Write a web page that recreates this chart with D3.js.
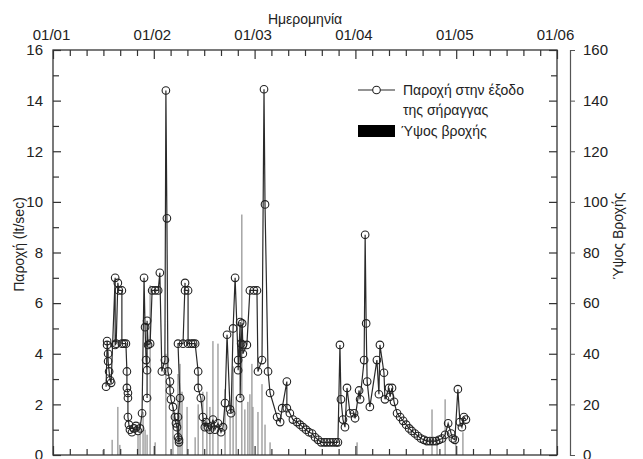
<!DOCTYPE html>
<html>
<head>
<meta charset="utf-8">
<script src="https://cdn.jsdelivr.net/npm/d3@7"></script>
<style>
  body { margin: 0; background: #fff; }
  text { font-family: "Liberation Sans", Arial, sans-serif; fill: #222; }
</style>
</head>
<body>
<div id="chart"></div>
<script>
// date tick labels (day/month), one every 30 days
const dateLabels = ["01/01", "01/02", "01/03", "01/04", "01/05", "01/06"];

// discharge at the tunnel exit: day since 01/01 and lt/sec
const flowDays = [15.8, 16.1, 16.1, 16.4, 16.4, 16.7, 17.0, 17.3, 18.5, 18.5, 18.8, 19.3, 19.6, 20.5, 20.5, 21.1, 21.7,
  22.0, 22.0, 22.3, 22.3, 22.3, 22.6, 22.9, 23.5, 24.1, 24.7, 25.3, 25.9, 26.5, 27.1, 27.4, 27.7, 28.0, 28.0, 28.0,
  28.3, 28.9, 29.5, 30.4, 31.3, 31.8, 32.4, 33.3, 33.6, 33.9, 34.2, 34.8, 34.8, 35.1, 35.7, 36.3, 36.6, 36.9, 37.2,
  37.5, 37.5, 37.2, 37.8, 37.2, 38.7, 39.3, 39.3, 40.2, 40.2, 41.1, 41.7, 42.3, 43.2, 43.2, 44.0, 44.6, 45.2, 45.5,
  46.1, 46.7, 47.6, 48.2, 49.1, 50.0, 50.6, 51.2, 51.8, 52.7, 53.0, 53.6, 54.2, 55.1, 55.1, 55.7, 55.7, 56.0, 56.3,
  56.5, 56.5, 57.7, 58.6, 59.8, 60.7, 61.0, 62.2, 62.8, 63.1, 64.0, 64.6, 66.7, 67.6, 68.2, 69.6, 69.6, 70.5, 71.4,
  72.6, 73.5, 74.4, 75.3, 76.2, 77.1, 78.0, 78.9, 79.8, 80.7, 81.5, 82.4, 83.3, 84.2, 84.8, 85.4, 85.7, 86.3, 86.9,
  87.5, 88.4, 89.6, 89.9, 91.1, 91.4, 92.6, 92.9, 93.2, 93.5, 94.3, 96.4, 97.0, 97.3, 98.5, 98.8, 100.0, 100.3, 100.9,
  101.5, 102.4, 103.3, 104.2, 105.1, 106.0, 106.8, 107.7, 108.6, 109.5, 110.4, 111.3, 112.2, 113.1, 114.0, 114.9,
  115.8, 116.7, 117.6, 118.5, 119.0, 119.6, 120.5, 121.1, 121.7, 122.3, 122.9];
const flowValues = [2.7, 4.35, 4.5, 4.0, 3.7, 3.3, 2.95, 2.85, 7.0, 4.35, 4.4, 6.8, 6.5, 6.5, 4.4, 4.4, 4.4,
  3.3, 2.65, 2.45, 2.25, 1.5, 1.2, 1.0, 0.9, 1.05, 1.15, 0.95, 1.05, 1.65, 7.0, 5.05, 3.75, 3.35, 2.25, 5.3,
  4.35, 4.4, 6.5, 6.5, 6.5, 7.2, 3.3, 3.75, 14.4, 9.35, 3.3, 2.9, 2.55, 2.2, 1.9, 1.5, 1.25, 1.1, 0.7,
  0.5, 0.6, 1.5, 2.25, 4.4, 4.4, 6.8, 6.5, 6.5, 4.4, 4.4, 4.4, 4.4, 3.3, 2.65, 2.25, 1.5, 1.1, 1.3,
  1.1, 1.0, 1.4, 1.0, 1.25, 0.9, 1.1, 2.05, 4.75, 1.8, 1.65, 5.0, 7.0, 3.75, 3.35, 5.25, 2.25, 4.4, 5.2,
  4.35, 4.0, 4.35, 6.5, 6.5, 6.5, 3.3, 3.75, 14.45, 9.9, 3.3, 2.45, 1.5, 1.3, 1.85, 2.9, 1.85, 1.65, 1.4,
  1.3, 1.2, 1.1, 1.0, 0.9, 0.85, 0.7, 0.6, 0.5, 0.5, 0.5, 0.5, 0.5, 0.5, 0.5, 4.35, 2.2, 1.4, 1.1,
  2.65, 1.65, 1.65, 1.45, 2.55, 2.2, 3.75, 8.7, 5.2, 2.9, 1.9, 3.75, 2.4, 4.35, 3.25, 2.2, 2.65, 2.3, 2.65,
  2.1, 1.65, 1.5, 1.35, 1.2, 1.05, 0.95, 0.85, 0.75, 0.65, 0.6, 0.55, 0.55, 0.55, 0.55, 0.6,
  0.65, 0.8, 1.25, 0.85, 0.65, 0.6, 2.6, 1.3, 1.1, 1.5, 1.4];

// rainfall height (mm)
const rainDays = [14.9, 17.6, 19.3, 19.9, 25.3, 25.9, 26.8, 27.4, 28.0, 28.9, 30.4, 33.6, 35.7, 37.2, 37.8, 38.4,
  39.9, 42.3, 43.2, 44.6, 45.8, 46.7, 47.6, 49.1, 51.2, 52.7, 53.6, 54.5, 56.2, 57.1, 58.0, 58.6, 59.2, 59.5,
  61.0, 62.2, 63.1, 64.6, 90.5, 112.8, 114.3, 116.7, 119.9, 122.0];
const rainValues = [2, 6, 19, 4, 8, 13, 17, 10, 8, 67, 5, 40, 19, 32, 36, 25,
  19, 7, 20, 25, 25, 19, 45, 44, 26, 15, 35, 23, 95, 18, 21, 24, 36, 19,
  17, 28, 12, 5, 5, 18, 7, 22, 7, 9];

const W = 643, H = 459;
const svg = d3.select('#chart').append('svg')
  .attr('width', W)
  .attr('height', H);

const plotLeft = 53, plotRight = 557, plotTop = 50, plotBottom = 455;

const x = d3.scaleLinear().domain([0, 150]).range([plotLeft, plotRight]);
const y = d3.scaleLinear().domain([0, 16]).range([plotBottom, plotTop]);
const yRain = d3.scaleLinear().domain([0, 160]).range([plotBottom, plotTop]);

const majorDays = d3.range(0, 151, 30);
const minorDays = d3.range(0, 151, 5).filter(d => d % 30 !== 0);

// rain bars
svg.append('g')
  .selectAll('rect')
  .data(rainDays)
  .enter()
  .append('rect')
  .attr('x', d => x(d) - 0.6)
  .attr('width', 1.2)
  .attr('y', (d, i) => yRain(rainValues[i]))
  .attr('height', (d, i) => yRain(0) - yRain(rainValues[i]))
  .attr('fill', '#8f8f8f');

// discharge line + hollow circles
const flow = flowDays.map((d, i) => [d, flowValues[i]]);
svg.append('path')
  .datum(flow)
  .attr('fill', 'none')
  .attr('stroke', '#2a2a2a')
  .attr('stroke-width', 1.2)
  .attr('d', d3.line().x(d => x(d[0])).y(d => y(d[1])));
svg.append('g')
  .selectAll('circle')
  .data(flow)
  .enter()
  .append('circle')
  .attr('cx', d => x(d[0]))
  .attr('cy', d => y(d[1]))
  .attr('r', 3.8)
  .attr('fill', 'none')
  .attr('stroke', '#222')
  .attr('stroke-width', 1.1);

// frame
svg.append('rect')
  .attr('x', plotLeft).attr('y', plotTop)
  .attr('width', plotRight - plotLeft).attr('height', plotBottom - plotTop)
  .attr('fill', 'none')
  .attr('stroke', '#333')
  .attr('stroke-width', 1.3);

function styleAxis(g) {
  g.select('.domain').remove();
  g.selectAll('line').attr('stroke', '#333').attr('stroke-width', 1.2);
  g.selectAll('text').style('font-size', '14px').attr('fill', '#222')
    .style('font-family', '"Liberation Sans", Arial, sans-serif');
}

// top date axis
svg.append('g').attr('transform', `translate(0,${plotTop})`)
  .call(d3.axisTop(x).tickValues(majorDays).tickSize(-9).tickPadding(10)
    .tickFormat((d, i) => dateLabels[i]))
  .call(styleAxis)
  .selectAll('text').style('font-size', '15px').attr('dx', -2);
svg.append('g').attr('transform', `translate(0,${plotTop})`)
  .call(d3.axisTop(x).tickValues(minorDays).tickSize(-6).tickFormat(''))
  .call(styleAxis);
// bottom ticks
svg.append('g').attr('transform', `translate(0,${plotBottom})`)
  .call(d3.axisBottom(x).tickValues(majorDays).tickSize(-9).tickFormat(''))
  .call(styleAxis);
svg.append('g').attr('transform', `translate(0,${plotBottom})`)
  .call(d3.axisBottom(x).tickValues(minorDays).tickSize(-6).tickFormat(''))
  .call(styleAxis);

// left discharge axis
svg.append('g').attr('transform', `translate(${plotLeft},0)`)
  .call(d3.axisLeft(y).tickValues(d3.range(0, 17, 2)).tickSize(-8).tickPadding(10))
  .call(styleAxis)
  .selectAll('text').style('font-size', '15px');
svg.append('g').attr('transform', `translate(${plotLeft},0)`)
  .call(d3.axisLeft(y).tickValues(d3.range(1, 16, 2)).tickSize(-6).tickFormat(''))
  .call(styleAxis);
// right side of the frame
svg.append('g').attr('transform', `translate(${plotRight},0)`)
  .call(d3.axisRight(y).tickValues(d3.range(0, 17, 2)).tickSize(-8).tickFormat(''))
  .call(styleAxis);
svg.append('g').attr('transform', `translate(${plotRight},0)`)
  .call(d3.axisRight(y).tickValues(d3.range(1, 16, 2)).tickSize(-6).tickFormat(''))
  .call(styleAxis);

// offset rain axis
const rainAxis = svg.append('g').attr('transform', `translate(570,0)`)
  .call(d3.axisRight(yRain).tickValues(d3.range(0, 161, 20)).tickSize(5).tickSizeOuter(5).tickPadding(8));
rainAxis.select('.domain').attr('stroke', '#555').attr('stroke-width', 1.2);
rainAxis.selectAll('line').attr('stroke', '#555');
rainAxis.selectAll('text').style('font-size', '15px').attr('fill', '#222')
  .style('font-family', '"Liberation Sans", Arial, sans-serif');

// axis titles
svg.append('text')
  .attr('x', (plotLeft + plotRight) / 2).attr('y', 24)
  .attr('text-anchor', 'middle')
  .style('font-size', '14px')
  .text('Ημερομηνία');
svg.append('text')
  .attr('transform', `translate(24,${(plotTop + plotBottom) / 2 - 8}) rotate(-90)`)
  .attr('text-anchor', 'middle')
  .style('font-size', '14px')
  .text('Παροχή (lt/sec)');
svg.append('text')
  .attr('transform', `translate(623,236) rotate(-90)`)
  .attr('text-anchor', 'middle')
  .style('font-size', '14px')
  .text('Ύψος Βροχής');

// legend
const lg = svg.append('g').attr('transform', 'translate(358,90)');
lg.append('line').attr('x1', 0).attr('x2', 37).attr('y1', 0).attr('y2', 0)
  .attr('stroke', '#2a2a2a').attr('stroke-width', 1.2);
lg.append('circle').attr('cx', 18.5).attr('cy', 0).attr('r', 3.8)
  .attr('fill', '#fff').attr('stroke', '#222').attr('stroke-width', 1.1);
lg.append('text').attr('x', 45).attr('y', 5).style('font-size', '14px').text('Παροχή στην έξοδο');
lg.append('text').attr('x', 45).attr('y', 25).style('font-size', '14px').text('της σήραγγας');
lg.append('rect').attr('x', 0).attr('y', 35).attr('width', 37).attr('height', 12).attr('fill', '#000');
lg.append('text').attr('x', 43).attr('y', 46).style('font-size', '14px').text('Ύψος βροχής');
</script>
</body>
</html>
